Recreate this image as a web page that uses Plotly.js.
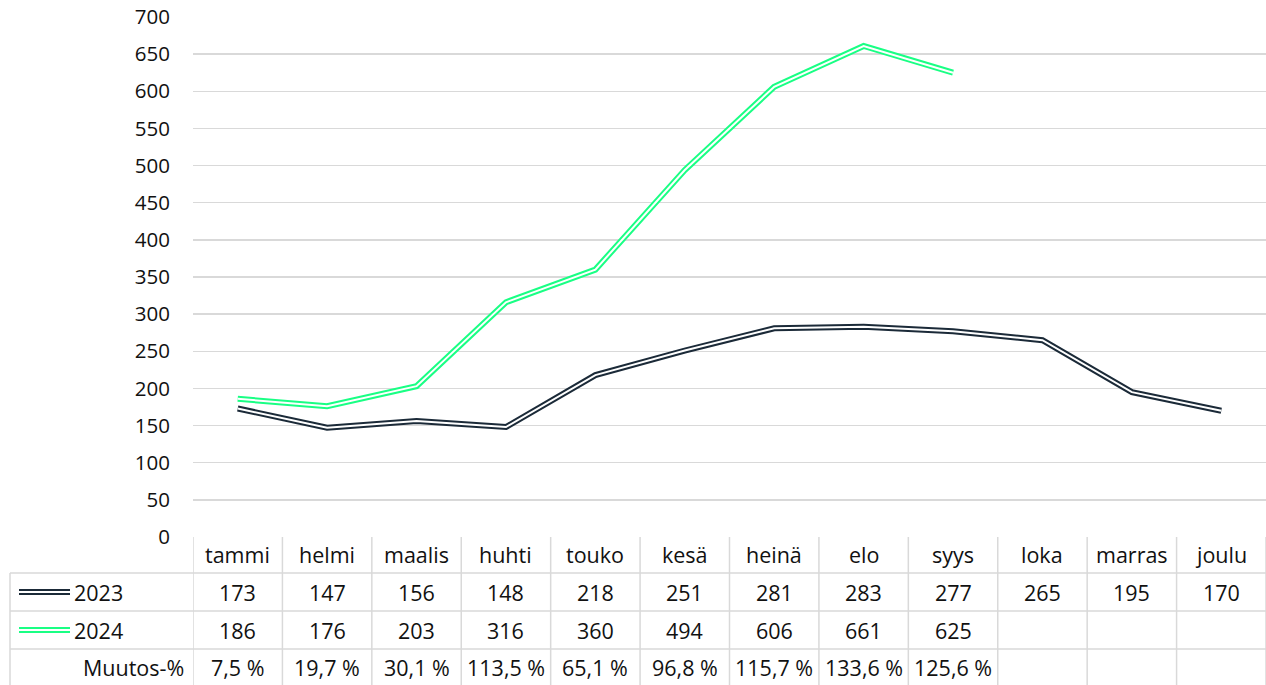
<!DOCTYPE html>
<html><head><meta charset="utf-8">
<script src="https://cdn.plot.ly/plotly-3.0.1.min.js"></script>
<style>body{margin:0;background:#fff}#c{width:1266px;height:685px}</style>
</head><body><div id="c"></div>
<script>
const months = ['tammi','helmi','maalis','huhti','touko','kesä','heinä','elo','syys','loka','marras','joulu'];
const y2023 = [173,147,156,148,218,251,281,283,277,265,195,170];
const y2024 = [186,176,203,316,360,494,606,661,625];
const seriesNames = ['2023','2024'];
const changeLabel = 'Muutos-%';
const yTicks = [0,50,100,150,200,250,300,350,400,450,500,550,600,650,700];

const dark = '#1b2a38', green = '#19ff84', grid = '#d9d9d9', txt = '#111111';
const FONT = '"Open Sans", Lato, sans-serif';
const FS = 21.5;

function fmtPct(a,b){ return ((b/a-1)*100).toFixed(1).replace('.',',')+' %'; }
const change = y2024.map((v,i)=>fmtPct(y2023[i],v));

const m23 = months.slice(0,y2023.length), m24 = months.slice(0,y2024.length);
const traces = [
  {x:m23,y:y2023,mode:'lines',line:{color:dark,width:6},hoverinfo:'skip'},
  {x:m23,y:y2023,mode:'lines',line:{color:'#ffffff',width:2},hoverinfo:'skip'},
  {x:m24,y:y2024,mode:'lines',line:{color:green,width:6},hoverinfo:'skip'},
  {x:m24,y:y2024,mode:'lines',line:{color:'#ffffff',width:2},hoverinfo:'skip'}
];

const PH = 520, PW = 1073;
const py = px => (537-px)/PH;
const pxp = px => (px-193)/PW;
const rowLines = [573,611,649];
const rowCenters = {head:554, r1:592, r2:630, r3:667};

const shapes = [];
const ann = [];
const lineStyle = {color:grid,width:1.5};
for(let i=0;i<=months.length;i++){
  shapes.push({type:'line',xref:'x',yref:'paper',x0:i-0.5,x1:i-0.5,y0:py(537),y1:py(685),line:lineStyle,layer:'below'});
}
rowLines.forEach(r=>shapes.push({type:'line',xref:'paper',yref:'paper',x0:pxp(10),x1:1,y0:py(r),y1:py(r),line:lineStyle}));
shapes.push({type:'line',xref:'paper',yref:'paper',x0:pxp(10),x1:pxp(10),y0:py(573),y1:py(685),line:lineStyle});

const f = {family:FONT,size:FS,color:txt};
function cell(x,yc,text){ ann.push({x:x,xref:'x',yref:'paper',y:py(yc),yanchor:'middle',xanchor:'center',text:text,showarrow:false,font:f}); }
months.forEach(m=>cell(m,rowCenters.head,m));
y2023.forEach((v,i)=>cell(months[i],rowCenters.r1,String(v)));
y2024.forEach((v,i)=>cell(months[i],rowCenters.r2,String(v)));
change.forEach((v,i)=>cell(months[i],rowCenters.r3,v));

[[seriesNames[0],dark,rowCenters.r1],[seriesNames[1],green,rowCenters.r2]].forEach(([n,c,r])=>{
  shapes.push({type:'line',xref:'paper',yref:'paper',x0:pxp(19),x1:pxp(70),y0:py(r),y1:py(r),line:{color:c,width:6}});
  shapes.push({type:'line',xref:'paper',yref:'paper',x0:pxp(19),x1:pxp(70),y0:py(r),y1:py(r),line:{color:'#ffffff',width:2}});
  ann.push({x:pxp(72),xref:'paper',yref:'paper',y:py(r),xanchor:'left',yanchor:'middle',text:n,showarrow:false,font:f});
});
ann.push({x:pxp(186),xref:'paper',yref:'paper',y:py(rowCenters.r3),xanchor:'right',yanchor:'middle',text:changeLabel,showarrow:false,font:f});

const layout = {
  width:1266,height:685,
  margin:{l:193,r:0,t:17,b:148,pad:0},
  paper_bgcolor:'#fff',plot_bgcolor:'#fff',
  showlegend:false,
  font:f,
  xaxis:{type:'category',categoryorder:'array',categoryarray:months,range:[-0.5,months.length-0.5],
         showticklabels:false,showgrid:false,zeroline:false,showline:false,ticks:'',fixedrange:true},
  yaxis:{range:[0,700],tickvals:yTicks,ticktext:yTicks.map(String),showgrid:true,gridcolor:grid,gridwidth:1.3,
         zeroline:false,showline:false,ticks:'',ticklabelstandoff:22,tickfont:{family:FONT,size:20.5,color:txt},fixedrange:true},
  shapes:shapes,annotations:ann
};
Plotly.newPlot('c',traces,layout,{displayModeBar:false,staticPlot:true});
</script></body></html>
